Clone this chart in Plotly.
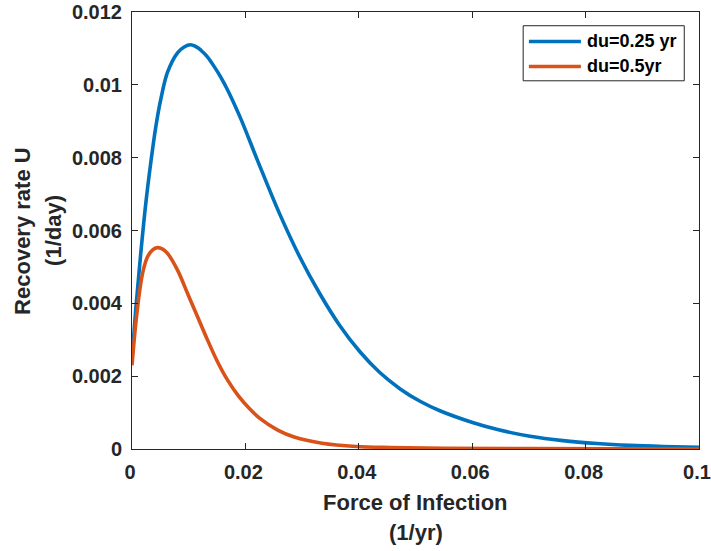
import plotly.graph_objects as go

# Recovery rate U (1/day) versus force of infection (1/yr) for two durations du
foi_025 = [0, 0.0007, 0.0015, 0.0024, 0.0033, 0.0042, 0.0051, 0.00627, 0.00803,
           0.0092, 0.0103, 0.0115, 0.01215, 0.0133, 0.0145, 0.0157, 0.01686, 0.0191,
           0.0222, 0.026, 0.02957, 0.0331, 0.0366, 0.0402, 0.0437, 0.0473, 0.0508,
           0.0543, 0.0602, 0.0643, 0.0702, 0.076, 0.082, 0.0878, 0.0937, 0.1]
rate_025 = [0.0025, 0.0039, 0.0053, 0.0067, 0.00785, 0.00885, 0.00962, 0.01035, 0.01088,
            0.01104, 0.0111, 0.01103, 0.01095, 0.01077, 0.0105, 0.0102, 0.00986, 0.0091,
            0.0079, 0.00647, 0.00528, 0.00427, 0.0034, 0.00267, 0.0021, 0.00165, 0.00131,
            0.00105, 0.00072, 0.00054, 0.00035, 0.00023, 0.00015, 0.0001, 0.00007, 0.00005]

foi_05 = [0, 0.00067, 0.00155, 0.0021, 0.00274, 0.0036, 0.0045, 0.0054, 0.00627,
          0.00803, 0.0098, 0.01156, 0.01333, 0.0151, 0.01686, 0.0188, 0.0207, 0.0225,
          0.0257, 0.0286, 0.0335, 0.0396, 0.0455, 0.055, 0.07, 0.1]
rate_05 = [0.0023, 0.00345, 0.00455, 0.00498, 0.00528, 0.00546, 0.00553, 0.00549, 0.00537,
           0.00491, 0.00427, 0.00363, 0.00299, 0.00239, 0.00189, 0.00145, 0.00111, 0.00085,
           0.00052, 0.00033, 0.00016, 0.00007, 0.00004, 0.00002, 0.00001, 0.0]

series_names = ["du=0.25 yr", "du=0.5yr"]
series_colors = ["#0072BD", "#D95319"]

x_ticks = [0, 0.02, 0.04, 0.06, 0.08, 0.1]
x_tick_text = ["0", "0.02", "0.04", "0.06", "0.08", "0.1"]
y_ticks = [0, 0.002, 0.004, 0.006, 0.008, 0.01, 0.012]
y_tick_text = ["0", "0.002", "0.004", "0.006", "0.008", "0.01", "0.012"]

x_title = ["Force of Infection", "(1/yr)"]
y_title = ["Recovery rate U", "(1/day)"]

FONT = "Liberation Sans, Arial, Helvetica, sans-serif"
INK = "#262626"

fig = go.Figure()
for xs, ys, name, color in zip([foi_025, foi_05], [rate_025, rate_05],
                               series_names, series_colors):
    fig.add_trace(go.Scatter(x=xs, y=ys, mode="lines", name=name,
                             line=dict(color=color, width=3.6, shape="spline",
                                       smoothing=1.0),
                             showlegend=False))

axis_common = dict(showgrid=False, zeroline=False, showline=True, linecolor=INK,
                   linewidth=1, mirror="ticks", ticks="inside", ticklen=6,
                   tickcolor=INK, tickwidth=1, automargin=False,
                   ticklabeloverflow="allow", ticklabelstandoff=5,
                   tickfont=dict(family=FONT, size=20, color=INK, weight="bold"))

fig.update_layout(
    width=711, height=551,
    margin=dict(l=132, r=12, t=12, b=102),
    paper_bgcolor="white", plot_bgcolor="white",
    font=dict(family=FONT, color=INK, weight="bold"),
    xaxis=dict(range=[0, 0.1], tickvals=x_ticks, ticktext=x_tick_text,
               ticklabelshift=-2, **axis_common),
    yaxis=dict(range=[0, 0.012], tickvals=y_ticks, ticktext=y_tick_text, **axis_common),
)

# axis titles, one annotation per line
fig.add_annotation(x=0.5, y=-0.1221, xref="paper", yref="paper", text=x_title[0],
                   showarrow=False, xanchor="center", yanchor="middle",
                   font=dict(size=22, family=FONT, color=INK, weight="bold"))
fig.add_annotation(x=0.5, y=-0.1900, xref="paper", yref="paper", text=x_title[1],
                   showarrow=False, xanchor="center", yanchor="middle",
                   font=dict(size=22, family=FONT, color=INK, weight="bold"))
fig.add_annotation(x=-0.1933, y=0.5, xref="paper", yref="paper", text=y_title[0],
                   showarrow=False, xanchor="center", yanchor="middle", textangle=-90,
                   font=dict(size=22, family=FONT, color=INK, weight="bold"))
fig.add_annotation(x=-0.1386, y=0.5, xref="paper", yref="paper", text=y_title[1],
                   showarrow=False, xanchor="center", yanchor="middle", textangle=-90,
                   font=dict(size=22, family=FONT, color=INK, weight="bold"))

# legend box in the upper right corner
fig.add_shape(type="rect", xref="paper", yref="paper", x0=0.6899, x1=0.974,
              y0=0.8426, y1=0.9686, line=dict(color=INK, width=1), fillcolor="white",
              layer="above")
legend_rows = [0.9326, 0.8753]
for row_y, name, color in zip(legend_rows, series_names, series_colors):
    fig.add_shape(type="line", xref="paper", yref="paper", x0=0.700, x1=0.7917,
                  y0=row_y, y1=row_y, line=dict(color=color, width=3.6), layer="above")
    fig.add_annotation(x=0.7988, y=row_y, xref="paper", yref="paper", text=name,
                       showarrow=False, xanchor="left", yanchor="middle",
                       font=dict(size=18, family=FONT, color="black", weight="bold"))

fig.write_html("out.html")
